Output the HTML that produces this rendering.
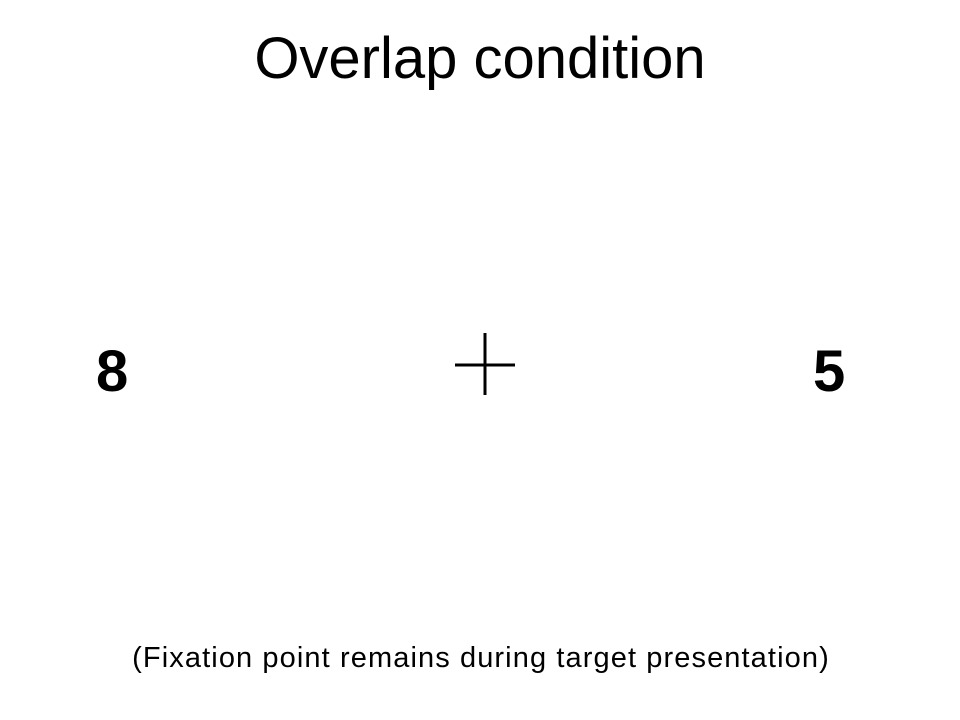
<!DOCTYPE html>
<html>
<head>
<meta charset="utf-8">
<style>
  html, body { margin: 0; padding: 0; background: #fff; }
  body { width: 960px; height: 720px; position: relative; overflow: hidden; font-family: "Liberation Sans", Arial, sans-serif; color: #000; }
  .abs { position: absolute; white-space: nowrap; }
  #title { left: 0; width: 960px; text-align: center; top: 24px; font-size: 58px; line-height: 70px; }
  .digit { font-weight: bold; font-size: 58px; line-height: 60px; top: 342px; }
  #caption { left: 0; width: 962px; text-align: center; top: 642px; font-size: 29px; line-height: 32px; letter-spacing: 1.1px; }
</style>
</head>
<body>
  <div id="title" class="abs">Overlap condition</div>
  <div class="abs digit" style="left:96px;">8</div>
  <div class="abs digit" style="left:813px;">5</div>
  <svg class="abs" style="left:0;top:0;" width="960" height="720">
    <line x1="455" y1="365" x2="515" y2="365" stroke="#000" stroke-width="3"/>
    <line x1="485" y1="333" x2="485" y2="395" stroke="#000" stroke-width="3"/>
  </svg>
  <div id="caption" class="abs">(Fixation point remains during target presentation)</div>
</body>
</html>
